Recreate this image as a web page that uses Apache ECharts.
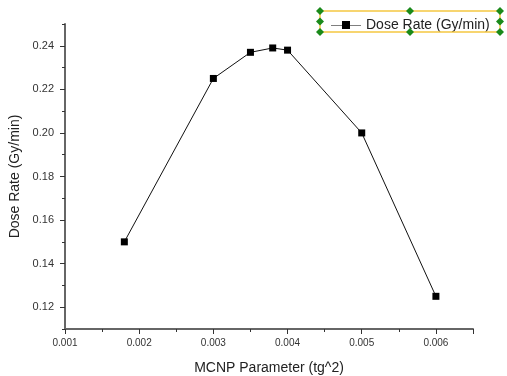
<!DOCTYPE html>
<html><head><meta charset="utf-8">
<script src="https://cdn.jsdelivr.net/npm/echarts@6/dist/echarts.min.js"></script>
<style>html,body{margin:0;padding:0;background:#fff}#c{width:507px;height:376px}</style>
</head><body><div id="c"></div>
<script>
const xValues = [0.0018, 0.003, 0.0035, 0.0038, 0.004, 0.005, 0.006];
const doseRate = [0.150, 0.225, 0.237, 0.239, 0.238, 0.200, 0.125];
const yTickLabels = [0.12, 0.14, 0.16, 0.18, 0.20, 0.22, 0.24];
const seriesName = 'Dose Rate (Gy/min)';
const xAxisName = 'MCNP Parameter (tg^2)';
const yAxisName = 'Dose Rate (Gy/min)';

const chart = echarts.init(document.getElementById('c'), null, {renderer: 'canvas'});
const font = 'Arial, "Liberation Sans", sans-serif';
const axisCol = '#666';
const lblCol = '#333';

const bx0 = 320, bx1 = 500, by0 = 11, by1 = 32;
const handles = [];
[[bx0,by0],[(bx0+bx1)/2,by0],[bx1,by0],[bx0,(by0+by1)/2],[bx1,(by0+by1)/2],[bx0,by1],[(bx0+bx1)/2,by1],[bx1,by1]].forEach(p=>{
  handles.push({type:'polygon', shape:{points:[[p[0],p[1]-4],[p[0]+4,p[1]],[p[0],p[1]+4],[p[0]-4,p[1]]]}, style:{fill:'#1a8a1a'}, z:110});
});

chart.setOption({
  animation: false,
  backgroundColor: '#fff',
  textStyle: {fontFamily: font},
  grid: {left: 65, top: 24, right: 34, bottom: 47, containLabel: false, outerBoundsMode: 'none'},
  legend: {
    show: true,
    data: [seriesName],
    left: 326, top: 13,
    itemWidth: 30, itemHeight: 8,
    itemGap: 6,
    textStyle: {fontSize: 14, color: '#222', fontFamily: font},
    icon: 'path://M0,4 L11,4 L11,0 L19,0 L19,4 L30,4 L30,4.6 L19,4.6 L19,8 L11,8 L11,4.6 L0,4.6 Z'
  },
  xAxis: {
    type: 'value', min: 0.001, max: 0.0065, interval: 0.001,
    name: xAxisName, nameLocation: 'middle', nameGap: 32,
    nameTextStyle: {fontSize: 14, color: '#222', fontFamily: font},
    axisLine: {show: true, lineStyle: {color: axisCol, width: 2}},
    axisTick: {show: true, inside: false, length: 5, lineStyle: {color: '#333'}},
    minorTick: {show: true, splitNumber: 2, length: 3, lineStyle: {color: '#333'}},
    splitLine: {show: false},
    axisLabel: {fontSize: 10, color: lblCol, margin: 9, fontFamily: font,
      formatter: v => (v > 0.0062 ? '' : v.toFixed(3))}
  },
  yAxis: [{
    type: 'value', min: 0.11, max: 0.25,
    name: yAxisName, nameLocation: 'middle', nameGap: 41, nameRotate: 90,
    nameTextStyle: {fontSize: 14, color: '#222', fontFamily: font},
    axisLine: {show: true, lineStyle: {color: axisCol, width: 2}},
    axisTick: {show: true, inside: false, length: 5, customValues: yTickLabels, lineStyle: {color: '#333'}},
    splitLine: {show: false},
    axisLabel: {fontSize: 11, color: lblCol, margin: 11, fontFamily: font, customValues: yTickLabels,
      formatter: v => v.toFixed(2)}
  }, {
    type: 'value', min: 0.11, max: 0.25, interval: 0.01, position: 'left', offset: 0,
    axisLine: {show: false},
    axisTick: {show: true, inside: false, length: 3, lineStyle: {color: '#333'}},
    axisLabel: {show: false},
    splitLine: {show: false}
  }],
  series: [{
    name: seriesName,
    type: 'line',
    yAxisIndex: 0,
    data: xValues.map((x,i)=>[x, doseRate[i]]),
    symbol: 'rect', symbolSize: 7, showSymbol: true,
    lineStyle: {color: '#111', width: 1},
    itemStyle: {color: '#000'},
    z: 5
  }],
  graphic: [
    {type:'rect', shape:{x:bx0, y:by0, width:bx1-bx0, height:by1-by0}, style:{fill:'rgba(0,0,0,0)', stroke:'#f5c842', lineWidth:1.5}, z:100},
    ...handles
  ]
});
</script></body></html>
